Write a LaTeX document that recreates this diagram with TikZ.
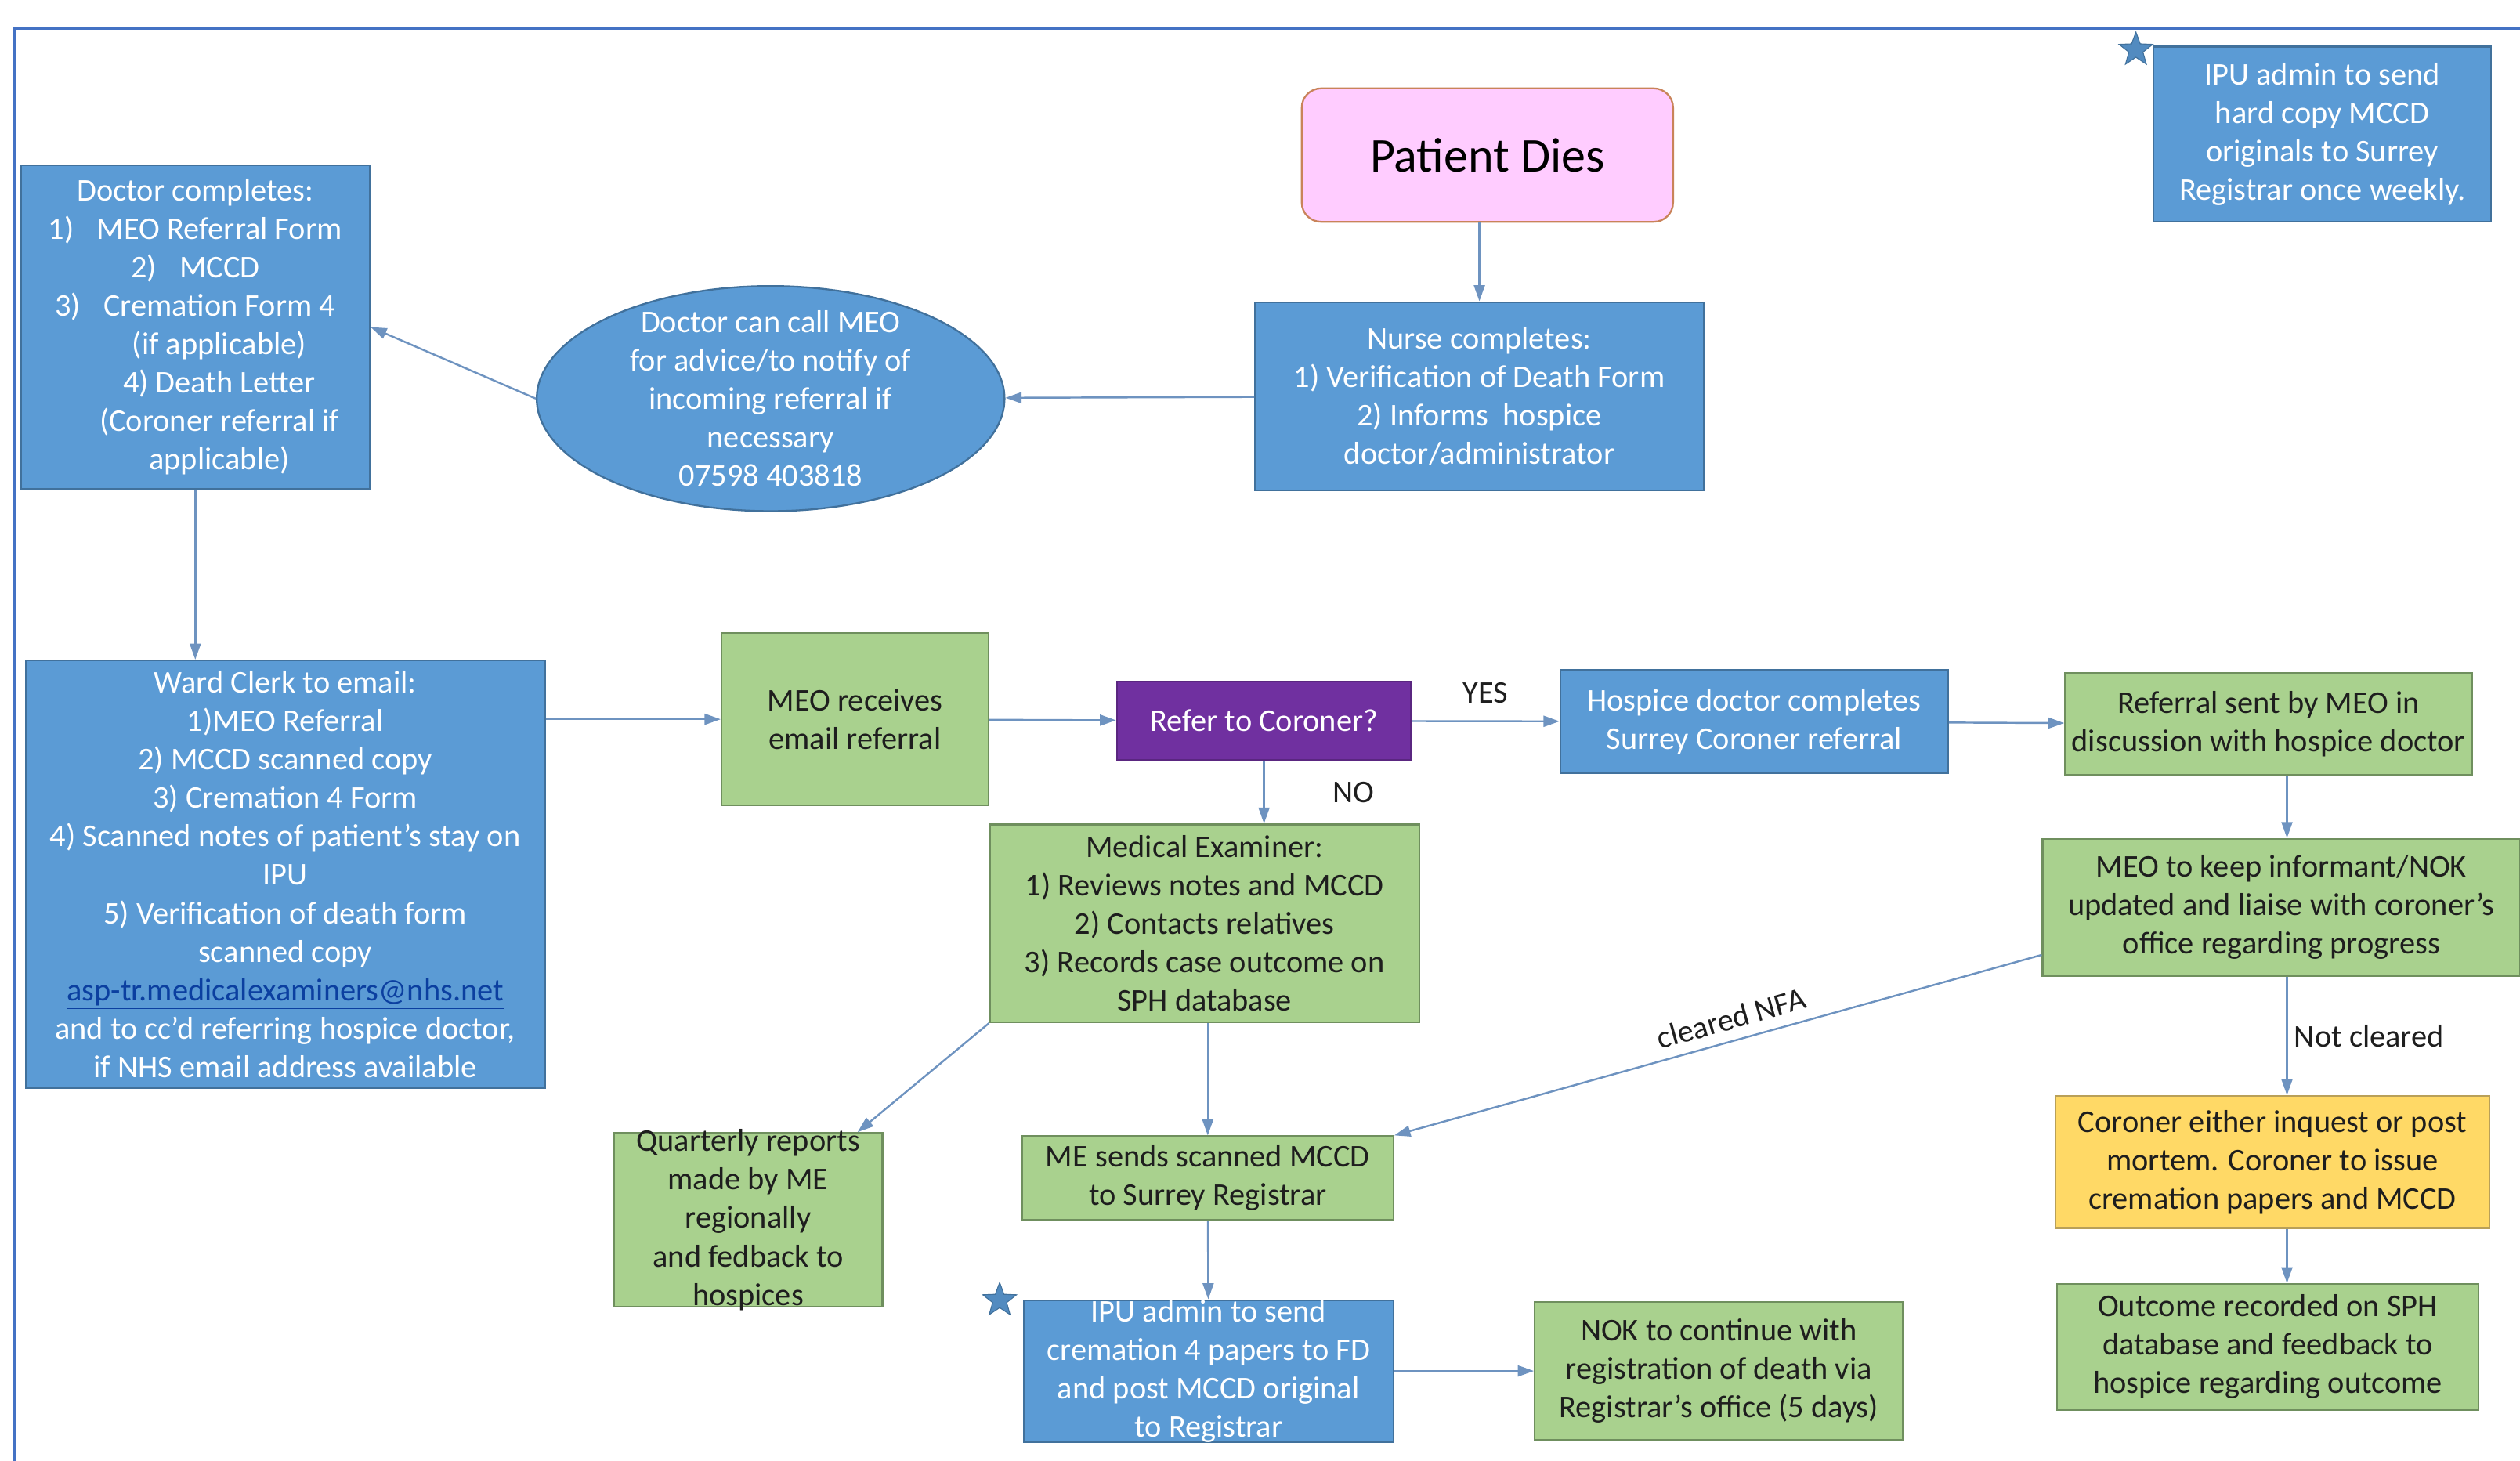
\documentclass[tikz,border=0pt]{standalone}
\usepackage{fontspec}
\setmainfont{Carlito}
\usetikzlibrary{shapes.geometric,arrows.meta}
\definecolor{bluefill}{HTML}{5B9BD5}
\definecolor{blueline}{HTML}{41719C}
\definecolor{greenfill}{HTML}{A9D18E}
\definecolor{greenline}{HTML}{6F8F5E}
\definecolor{yellowfill}{HTML}{FFD966}
\definecolor{yellowline}{HTML}{B9A058}
\definecolor{purplefill}{HTML}{7030A0}
\definecolor{pinkfill}{HTML}{FFCCFF}
\definecolor{pinkline}{HTML}{C9835A}
\definecolor{arrowcol}{HTML}{6E93C0}
\definecolor{framecol}{HTML}{4472C4}
\definecolor{linkcol}{HTML}{0B3FA0}
\definecolor{darktext}{HTML}{1E1E1E}
\newcommand{\ind}{\hspace*{0.75cm}}

\begin{document}
\begin{tikzpicture}[x=0.025cm, y=-0.025cm,
    every node/.style={font=\fontsize{14}{17}\selectfont, align=center, inner sep=0pt},
    bluebox/.style={rectangle, draw=blueline, fill=bluefill, text=white, line width=0.8pt},
    greenbox/.style={rectangle, draw=greenline, fill=greenfill, text=darktext, line width=0.8pt},
    flow/.style={-{Triangle[length=0.25cm,width=0.17cm]}, draw=arrowcol, line width=0.85pt},
    lbl/.style={text=darktext},
    mark star/.style={star, star points=5, star point ratio=2.4, fill=bluefill!90!black, draw=blueline, minimum size=0.55cm}]
        \useasboundingbox (0,0) rectangle (1568,909);
        \draw [framecol, line width=1.2pt] (1568,17.5) -- (8.8,17.5) -- (8.8,909);
        \node (PD) at (925.5,96.5) [rounded corners=0.3cm, draw=pinkline, fill=pinkfill, line width=0.8pt, font=\fontsize{21.5}{24}\selectfont, minimum width=5.775cm, minimum height=2.075cm] {Patient Dies};
        \node (NC) at (920.5,246.5) [bluebox, minimum width=6.975cm, minimum height=2.925cm] {Nurse completes:\\1) Verification of Death Form\\2) Informs\ \ hospice\\doctor/administrator};
        \node (EL) at (479.5,248) [ellipse, draw=blueline, fill=bluefill, text=white, line width=0.8pt, minimum width=7.275cm, minimum height=3.5cm, inner ysep=-0.3cm] {Doctor can call MEO\\for advice/to notify of\\incoming referral if\\necessary\\07598 403818};
        \node (DC) at (121.5,203.5) [bluebox, minimum width=5.425cm, minimum height=5.025cm] {Doctor completes:\\1)\enspace\ MEO Referral Form\\2)\enspace\ MCCD\\3)\enspace\ Cremation Form 4\\\ind(if applicable)\\\ind 4) Death Letter\\\ind(Coroner referral if\\\ind applicable)};
        \node (IT) at (1445,83.5) [bluebox, minimum width=5.25cm, minimum height=2.725cm] {IPU admin to send\\hard copy MCCD\\originals to Surrey\\Registrar once weekly.};
        \node (S1) at (1329,31) [mark star] {};
        \node (WC) at (177.5,544) [bluebox, minimum width=8.075cm, minimum height=6.65cm] {Ward Clerk to email:\\1)MEO Referral\\2) MCCD scanned copy\\3) Cremation 4 Form\\4) Scanned notes of patient’s stay on\\IPU\\5) Verification of death form\\scanned copy\\\textcolor{linkcol}{\underline{asp-tr.medicalexaminers@nhs.net}}\\and to cc’d referring hospice doctor,\\if NHS email address available};
        \node (MR) at (532,447.5) [greenbox, minimum width=4.15cm, minimum height=2.675cm] {MEO receives\\email referral};
        \node (RC) at (786.5,448.5) [rectangle, draw=purplefill!80!black, fill=purplefill, text=white, line width=0.8pt, minimum width=4.575cm, minimum height=1.225cm] {Refer to Coroner?};
        \node (HD) at (1091.5,449) [bluebox, minimum width=6.025cm, minimum height=1.6cm] {Hospice doctor completes\\Surrey Coroner referral};
        \node (RS) at (1411.5,450.5) [greenbox, minimum width=6.325cm, minimum height=1.575cm] {Referral sent by MEO in\\discussion with hospice doctor};
        \node (MK) at (1419.5,564.5) [greenbox, minimum width=7.425cm, minimum height=2.125cm] {MEO to keep informant/NOK\\updated and liaise with coroner’s\\office regarding progress};
        \node (CI) at (1414,723) [rectangle, draw=yellowline, fill=yellowfill, text=darktext, line width=0.8pt, minimum width=6.75cm, minimum height=2.05cm] {Coroner either inquest or post\\mortem. Coroner to issue\\cremation papers and MCCD};
        \node (OR) at (1411,838) [greenbox, minimum width=6.55cm, minimum height=1.95cm] {Outcome recorded on SPH\\database and feedback to\\hospice regarding outcome};
        \node (ME) at (749.5,574.5) [greenbox, minimum width=6.675cm, minimum height=3.075cm] {Medical Examiner:\\1) Reviews notes and MCCD\\2) Contacts relatives\\3) Records case outcome on\\SPH database};
        \node (QR) at (465.5,759) [greenbox, minimum width=4.175cm, minimum height=2.7cm, inner ysep=-0.2cm] {Quarterly reports\\made by ME\\regionally\\and fedback to\\hospices};
        \node (MS) at (751.5,733) [greenbox, minimum width=5.775cm, minimum height=1.3cm] {ME sends scanned MCCD\\to Surrey Registrar};
        \node (IA) at (752,853) [bluebox, minimum width=5.75cm, minimum height=2.2cm, inner ysep=-0.1cm] {IPU admin to send\\cremation 4 papers to FD\\and post MCCD original\\to Registrar};
        \node (S2) at (622,809) [mark star] {};
        \node (NK) at (1069.5,853) [greenbox, minimum width=5.725cm, minimum height=2.15cm] {NOK to continue with\\registration of death via\\Registrar’s office (5 days)};
        \coordinate (VX) at (1423,0);
        \draw [flow] (PD.south -| NC) -- (NC.north);
        \draw [flow] (NC) -- (EL);
        \draw [flow] (EL.west) -- (DC.east);
        \draw [flow] (DC.south) -- (DC.south |- WC.north);
        \draw [flow] (WC.east |- MR) -- (MR);
        \draw [flow] (MR) -- (RC);
        \draw [flow] (RC) -- node [lbl, above=0.26cm] {YES} (HD);
        \draw [flow] (RC.south) -- node [lbl, right=1.05cm] {NO} (RC.south |- ME.north);
        \draw [flow] (HD) -- (RS);
        \draw [flow] (RS.south -| VX) -- (MK.north -| VX);
        \draw [flow] (MK.south -| VX) -- node [lbl, right=0.1cm] {Not cleared} (CI.north -| VX);
        \draw [flow] (CI.south -| VX) -- (OR.north -| VX);
        \draw [flow] ([yshift=-0.74cm]MK.west) -- node [lbl, pos=0.47, rotate=15.7, anchor=south, inner ysep=0.16cm] {cleared NFA} (MS.north east);
        \draw [flow] (ME.south west) -- ([xshift=-0.4cm]QR.north east);
        \draw [flow] (ME.south -| MS.north) -- (MS.north);
        \draw [flow] (MS) -- (IA);
        \draw [flow] (IA) -- (NK);
\end{tikzpicture}
\end{document}
